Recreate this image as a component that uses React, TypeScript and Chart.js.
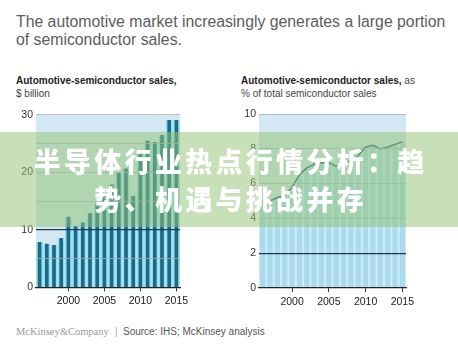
import React, { useEffect, useRef } from 'react';
import { Chart, registerables } from 'chart.js';

Chart.register(...registerables);

// ---- data ----
const years = ['1996', '1997', '1998', '1999', '2000', '2001', '2002', '2003', '2004', '2005', '2006', '2007', '2008', '2009', '2010', '2011', '2012', '2013', '2014', '2015'];
const salesBillion = [7.8, 7.5, 7.3, 8.5, 12.2, 10.6, 11.2, 12.8, 14.5, 16.0, 17.8, 19.8, 20.6, 15.8, 23.4, 25.4, 25.2, 26.4, 29.0, 29.0];
const sharePct = [5.0, 5.0, 5.2, 5.3, 5.8, 6.5, 6.9, 7.1, 7.2, 7.2, 7.0, 7.1, 7.3, 7.6, 8.1, 8.2, 8.0, 8.1, 8.25, 8.4];
const leftTicks = [0, 10, 20, 30];
const rightTicks = [0, 2, 4, 6, 8, 10];

const title = ['The automotive market increasingly generates a large portion', 'of semiconductor sales.'];
const overlayLines = ['半导体行业热点行情分析：趋', '势、机遇与挑战并存'];

const PALE = '#d3e8f2';
const CYAN = '#92ddf1';
const DARK = '#1d6a86';
const NAVY = '#1c3a56';
const GRID = '#a3b2b8';

const bgPlugin = {
  id: 'plotBg',
  beforeDraw(chart: any) {
    const { ctx, chartArea } = chart;
    ctx.save();
    ctx.fillStyle = PALE;
    ctx.fillRect(chartArea.left, chartArea.top, chartArea.right - chartArea.left, chartArea.bottom - chartArea.top);
    ctx.restore();
  },
};

function xAxis(height: number) {
  return {
    type: 'category' as const,
    offset: true,
    afterFit: (s: any) => { s.height = height; },
    border: { display: true, color: '#222', width: 1.2, z: 2 },
    grid: {
      offset: false,
      z: 2,
      drawOnChartArea: false,
      drawTicks: true,
      tickLength: 4,
      color: (c: any) => (Number(years[c.index]) % 5 === 0 ? '#333' : 'rgba(0,0,0,0)'),
    },
    ticks: {
      autoSkip: false,
      maxRotation: 0,
      padding: 4,
      color: '#222',
      font: { family: 'Liberation Sans, Arial, sans-serif', size: 10.5 },
      callback: (_v: any, i: number) => (Number(years[i]) % 5 === 0 ? years[i] : ''),
    },
  };
}

function yAxis(width: number, max: number, step: number, labels: number[], darkAt: number) {
  return {
    min: 0,
    max,
    afterFit: (s: any) => { s.width = width; },
    border: { display: false },
    grid: {
      z: 1,
      drawTicks: false,
      color: (c: any) => {
        const v = c.tick && c.tick.value;
        if (v === 0) return 'rgba(0,0,0,0)';
        if (v === darkAt) return NAVY;
        return GRID;
      },
      lineWidth: (c: any) => (c.tick && c.tick.value === darkAt ? 1.3 : 0.8),
    },
    ticks: {
      stepSize: step,
      padding: 3,
      color: '#333',
      font: { family: 'Liberation Sans, Arial, sans-serif', size: 10.5 },
      callback: (v: any) => (labels.includes(Number(v)) ? String(v) : ''),
    },
  };
}

function LeftChart() {
  const ref = useRef<HTMLCanvasElement>(null);
  useEffect(() => {
    const chart = new Chart(ref.current!, {
      type: 'bar',
      data: {
        labels: years,
        datasets: [
          { data: salesBillion, backgroundColor: DARK, barThickness: 3, grouped: false, order: 0 } as any,
          { data: salesBillion, backgroundColor: CYAN, barPercentage: 1, categoryPercentage: 0.92, grouped: false, order: 1 } as any,
        ],
      },
      options: {
        responsive: false,
        animation: false,
        devicePixelRatio: 1,
        layout: { padding: { top: 14.7, right: 20, left: 0, bottom: 0 } },
        plugins: { legend: { display: false }, tooltip: { enabled: false } },
        scales: {
          x: xAxis(32.7) as any,
          y: yAxis(36, 30, 5, leftTicks, 10) as any,
        },
      },
      plugins: [bgPlugin],
    });
    return () => chart.destroy();
  }, []);
  return <canvas ref={ref} width={200} height={220} style={{ position: 'absolute', left: 0, top: 100 }} />;
}

function RightChart() {
  const ref = useRef<HTMLCanvasElement>(null);
  useEffect(() => {
    const chart = new Chart(ref.current!, {
      type: 'bar',
      data: {
        labels: years,
        datasets: [
          { type: 'line', data: sharePct, borderColor: '#1f5f74', borderWidth: 1.4, pointRadius: 0, tension: 0, order: 0 } as any,
          { data: sharePct, backgroundColor: '#a6dcee', barPercentage: 1, categoryPercentage: 0.7, order: 1 } as any,
        ],
      },
      options: {
        responsive: false,
        animation: false,
        devicePixelRatio: 1,
        layout: { padding: { top: 14, right: 34, left: 0, bottom: 0 } },
        plugins: { legend: { display: false }, tooltip: { enabled: false } },
        scales: {
          x: xAxis(32) as any,
          y: yAxis(39, 10, 2, rightTicks, 2) as any,
        },
      },
      plugins: [bgPlugin],
    });
    return () => chart.destroy();
  }, []);
  return <canvas ref={ref} width={220} height={220} style={{ position: 'absolute', left: 220, top: 100 }} />;
}

const sans = 'Liberation Sans, Arial, Helvetica, sans-serif';

export default function App() {
  return (
    <div style={{ position: 'absolute', left: 0, top: 0, width: 458, height: 361, background: '#fff', overflow: 'hidden', fontFamily: sans }}>
      <div style={{ position: 'absolute', left: 16, top: 12.5, fontSize: 15.8, lineHeight: '18px', color: '#5c5c5c', whiteSpace: 'nowrap' }}>
        {title[0]}<br />{title[1]}
      </div>
      <div style={{ position: 'absolute', left: 16, top: 73.5, fontSize: 10, lineHeight: '13px', color: '#222', whiteSpace: 'nowrap' }}>
        <b>Automotive-semiconductor sales,</b><br /><span style={{ color: '#444' }}>$ billion</span>
      </div>
      <div style={{ position: 'absolute', left: 241, top: 73.5, fontSize: 10, lineHeight: '13px', color: '#222', whiteSpace: 'nowrap' }}>
        <b>Automotive-semiconductor sales,</b><span style={{ color: '#444' }}> as</span><br /><span style={{ color: '#444' }}>% of total semiconductor sales</span>
      </div>
      <LeftChart />
      <RightChart />
      <div style={{ position: 'absolute', left: 16, top: 325, fontSize: 10.5, lineHeight: '14px', color: '#999', fontFamily: 'Liberation Serif, Times New Roman, serif', whiteSpace: 'nowrap' }}>
        McKinsey&amp;Company
      </div>
      <div style={{ position: 'absolute', left: 115, top: 325, fontSize: 10, lineHeight: '14px', color: '#aaa', whiteSpace: 'nowrap' }}>|</div>
      <div style={{ position: 'absolute', left: 123, top: 325, fontSize: 10, lineHeight: '14px', color: '#555', whiteSpace: 'nowrap' }}>
        Source: IHS; McKinsey analysis
      </div>
      <div style={{ position: 'absolute', left: 0, top: 132, width: 458, height: 95, background: 'rgba(148,196,116,0.52)', display: 'flex', alignItems: 'center', justifyContent: 'center' }}>
        <div style={{ fontFamily: '"Noto Sans CJK SC", sans-serif', fontWeight: 900, fontSize: 27, letterSpacing: '3.3px', lineHeight: '38px', color: '#fff', textAlign: 'center', paddingLeft: 3.3, whiteSpace: 'nowrap' }}>
          {overlayLines[0]}<br />{overlayLines[1]}
        </div>
      </div>
    </div>
  );
}
